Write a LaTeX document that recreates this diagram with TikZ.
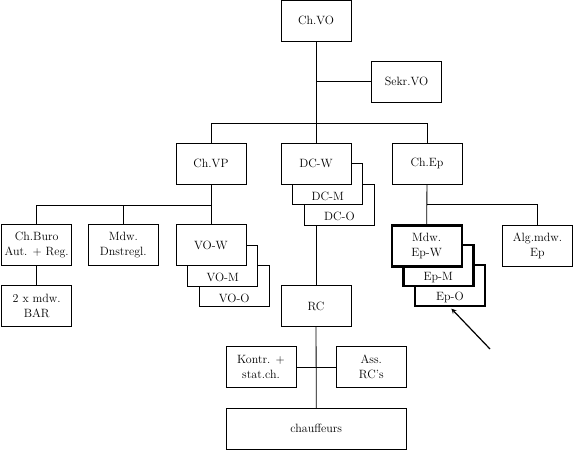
\documentclass[tikz,border=0pt]{standalone}
\usepackage{tikz}
\usetikzlibrary{arrows,positioning}

\begin{document}
\begin{tikzpicture}[x=1pt,y=-1pt,>=stealth,line width=0.8pt,
                    font=\fontsize{12}{15}\selectfont,
                    unit/.style={rectangle,draw,fill=white,align=center,
                                 minimum width=70pt,minimum height=41pt,inner sep=2pt},
                    back unit/.style={unit,label={[anchor=south,inner sep=4pt]south:#1}},
                    ep unit/.style={line width=2.4pt}]
  \useasboundingbox (0,0) rectangle (574,451);

  % top
  \node[unit] (chvo) at (316,20.5) {Ch.VO};
  \node[unit] (sekr) at (406.5,81.7) {Sekr.VO};

  % second row
  \node[unit] (chvp) at (211,163.7) {Ch.VP};
  \node[back unit=DC-O] (dco) at (339.5,204.5) {};
  \node[back unit=DC-M] (dcm) at (327.7,184.2) {};
  \node[unit] (dcw) at (316,163.7) {DC-W};
  \node[unit] (chep) at (427,163.7) {Ch.Ep};

  % under Ch.VP
  \node[unit] (chburo) at (36.7,245) {Ch.Buro\\Aut. + Reg.};
  \node[unit] (mdwd) at (123.3,245) {Mdw.\\Dnstregl.};
  \node[back unit=VO-O] (voo) at (234.3,285.8) {};
  \node[back unit=VO-M] (vom) at (222.7,265.6) {};
  \node[unit] (vow) at (211,245) {VO-W};
  \node[unit] (bar) at (36.7,306) {2 x mdw.\\BAR};

  % under Ch.Ep
  \node[back unit=Ep-O,ep unit] (epo) at (450,285.5) {};
  \node[back unit=Ep-M,ep unit] (epm) at (438.3,265.3) {};
  \node[unit,ep unit] (epw) at (426.7,245.8) {Mdw.\\Ep-W};
  \node[unit] (alg) at (537.5,245.8) {Alg.mdw.\\Ep};

  % under DC
  \node[unit] (rc) at (316,306) {RC};
  \node[unit] (kontr) at (261,367.2) {Kontr. +\\stat.ch.};
  \node[unit] (ass) at (371.3,367.2) {Ass.\\RC's};
  \node[unit,minimum width=180.7pt] (chauf) at (316.3,428.8) {chauffeurs};

  \coordinate (top bar) at (316,123.3);
  \coordinate (vp bar) at (211,205);
  \coordinate (ep bar) at (427,204.3);
  \coordinate (pointer) at (490,349);

  \draw (chvo) -- (dcw);
  \draw (sekr) -- (sekr -| chvo);
  \draw (chvp) |- (top bar) -| (chep);
  \draw (chvp) -- (vow);
  \draw (chburo) |- (vp bar);
  \draw (mdwd) -- (mdwd |- vp bar);
  \draw (chburo) -- (bar);
  \draw (chep) -- (epw);
  \draw (ep bar) -| (alg);
  \draw (dcw |- dco.south) -- (rc);
  \draw (rc) -- (chauf);
  \draw (kontr) -- (ass);
  \draw[->,line width=1.2pt,shorten >=2pt] (pointer) -- (epo.south);
\end{tikzpicture}
\end{document}
